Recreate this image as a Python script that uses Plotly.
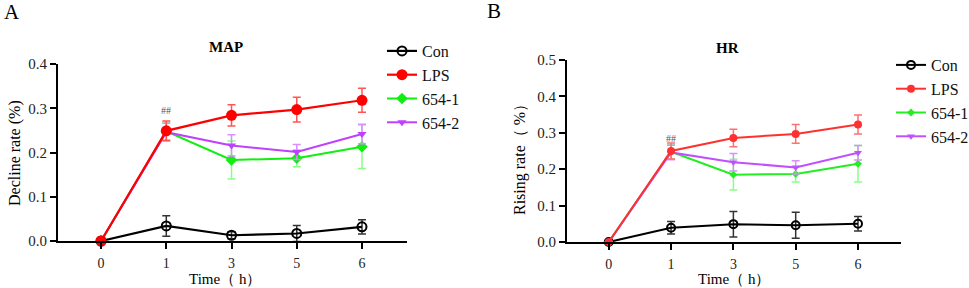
import plotly.graph_objects as go

W, H = 969, 288

time_labels = ["0", "1", "3", "5", "6"]
series_names = ["Con", "LPS", "654-1", "654-2"]

# MAP (panel A)
map_con = [0, 0.034, 0.013, 0.017, 0.032]
map_con_err = [None, 0.023, 0.008, 0.018, 0.016]
map_lps = [0, 0.249, 0.284, 0.297, 0.318]
map_lps_err = [None, 0.022, 0.024, 0.028, 0.027]
map_g1 = [0, 0.248, 0.183, 0.187, 0.213]
map_g1_err = [None, 0.020, 0.043, 0.019, 0.049]
map_g2 = [0, 0.246, 0.216, 0.201, 0.242]
map_g2_err = [None, 0.020, 0.024, 0.017, 0.022]

# HR (panel B)
hr_con = [0, 0.039, 0.049, 0.046, 0.050]
hr_con_err = [None, 0.017, 0.035, 0.036, 0.020]
hr_lps = [0, 0.250, 0.286, 0.297, 0.323]
hr_lps_err = [None, 0.022, 0.024, 0.026, 0.026]
hr_g1 = [0, 0.248, 0.185, 0.187, 0.215]
hr_g1_err = [None, 0.020, 0.042, 0.022, 0.050]
hr_g2 = [0, 0.246, 0.219, 0.205, 0.245]
hr_g2_err = [None, 0.020, 0.024, 0.018, 0.020]

FONT = "Liberation Serif, Times New Roman, serif"

def px_x(p):
    return p / W

def px_y(p):
    return (H - p) / H

fig = go.Figure()

styles_A = {
    "Con": dict(color="#000000", ecolor="#333333", symbol="circle-open", size=9, lw=2.2),
    "LPS": dict(color="#ff0000", ecolor="#ff5555", symbol="circle", size=11, lw=2.2),
    "654-1": dict(color="#11ee11", ecolor="#88ff88", symbol="diamond", size=9, lw=2.0),
    "654-2": dict(color="#c040ff", ecolor="#d890ff", symbol="triangle-down", size=8, lw=2.0),
}
styles_B = {
    "Con": dict(color="#000000", ecolor="#333333", symbol="circle-open", size=8, lw=2.0),
    "LPS": dict(color="#ff3030", ecolor="#ff7070", symbol="circle", size=8, lw=2.0),
    "654-1": dict(color="#22ee22", ecolor="#88ff88", symbol="diamond", size=6, lw=2.0),
    "654-2": dict(color="#c050ff", ecolor="#d890ff", symbol="triangle-down", size=7, lw=2.0),
}

data_A = {"Con": (map_con, map_con_err), "LPS": (map_lps, map_lps_err),
          "654-1": (map_g1, map_g1_err), "654-2": (map_g2, map_g2_err)}
data_B = {"Con": (hr_con, hr_con_err), "LPS": (hr_lps, hr_lps_err),
          "654-1": (hr_g1, hr_g1_err), "654-2": (hr_g2, hr_g2_err)}

draw_order = ["Con", "654-1", "654-2", "LPS"]
rank = {n: i for i, n in enumerate(series_names)}

for panel, data, styles, xa, ya, leg in [
    ("A", data_A, styles_A, "x", "y", "legend"),
    ("B", data_B, styles_B, "x2", "y2", "legend2"),
]:
    for name in draw_order:
        vals, errs = data[name]
        s = styles[name]
        fig.add_trace(go.Scatter(
            x=time_labels, y=vals, name=name, mode="lines+markers",
            xaxis=xa, yaxis=ya, legend=leg, legendrank=rank[name],
            line=dict(color=s["color"], width=s["lw"]),
            marker=dict(symbol=s["symbol"], size=s["size"], color=s["color"],
                        line=dict(width=2 if s["symbol"] == "circle-open" else 0, color=s["color"])),
            error_y=dict(type="data", array=errs, visible=True, color=s["ecolor"], thickness=1.5, width=4),
            cliponaxis=False,
        ))

axis_common = dict(showgrid=False, zeroline=False, showline=True, linecolor="#000000", linewidth=2,
                   ticks="outside", tickwidth=2, tickcolor="#000000", ticklen=6)
ytickfont = dict(family=FONT, size=15, color="#222222")
xtickfont = dict(family=FONT, size=14, color="#222222")

fig.update_layout(
    width=W, height=H, margin=dict(l=0, r=0, t=0, b=0, autoexpand=False),
    paper_bgcolor="white", plot_bgcolor="white",
    font=dict(family=FONT, color="#000000"),
    xaxis=dict(domain=[px_x(58), px_x(407)], anchor="y", type="category",
               range=[-0.66, 4.69], ticklabelstandoff=2, tickfont=xtickfont, **axis_common),
    yaxis=dict(domain=[px_y(241), px_y(64)], anchor="x", range=[0, 0.4], tickvals=[0, 0.1, 0.2, 0.3, 0.4],
               tickformat=".1f", tickfont=ytickfont, **axis_common),
    xaxis2=dict(domain=[px_x(567), px_x(901)], anchor="y2", type="category",
                range=[-0.67, 4.69], ticklabelstandoff=2, tickfont=xtickfont, **axis_common),
    yaxis2=dict(domain=[px_y(242), px_y(60)], anchor="x2", range=[0, 0.5],
                tickvals=[0, 0.1, 0.2, 0.3, 0.4, 0.5], tickformat=".1f", tickfont=ytickfont, **axis_common),
    legend=dict(x=px_x(382), y=px_y(34), xanchor="left", yanchor="top", bgcolor="rgba(0,0,0,0)",
                font=dict(family=FONT, size=16, color="#111111"), itemwidth=30, traceorder="normal"),
    legend2=dict(x=px_x(891), y=px_y(48), xanchor="left", yanchor="top", bgcolor="rgba(0,0,0,0)",
                 font=dict(family=FONT, size=16, color="#111111"), itemwidth=30, traceorder="normal"),
    showlegend=True,
)

ann = []
# panel letters
ann.append(dict(text="A", x=px_x(2), y=px_y(12), xanchor="left", yanchor="middle", font=dict(size=21)))
ann.append(dict(text="B", x=px_x(485), y=px_y(11), xanchor="left", yanchor="middle", font=dict(size=21)))
# titles
ann.append(dict(text="<b>MAP</b>", x=px_x(226), y=px_y(47), xanchor="center", yanchor="middle", font=dict(size=15)))
ann.append(dict(text="<b>HR</b>", x=px_x(727), y=px_y(48), xanchor="center", yanchor="middle", font=dict(size=15)))
# axis titles
ann.append(dict(text="Decline rate (%)", x=px_x(15), y=px_y(153), xanchor="center", yanchor="middle",
                textangle=-90, font=dict(size=16)))
ann.append(dict(text="Rising rate（ %）", x=px_x(520), y=px_y(156), xanchor="center", yanchor="middle",
                textangle=-90, font=dict(size=16)))
ann.append(dict(text="Time（ h）", x=px_x(225), y=px_y(279), xanchor="center", yanchor="middle", font=dict(size=15)))
ann.append(dict(text="Time（ h）", x=px_x(734), y=px_y(279), xanchor="center", yanchor="middle", font=dict(size=15)))
for a in ann:
    a.update(xref="paper", yref="paper", showarrow=False)
    a["font"].update(family=FONT, color="#000000")

# significance marks (data coordinates)
sig = [
    ("x", "y", "1", 0.294, "##", "center", 0, 10),
    ("x", "y", "6", 0.255, "**", "left", 9, 15),
    ("x", "y", "6", 0.208, "**", "left", 9, 15),
    ("x", "y", "6", 0.032, "***", "left", 9, 15),
    ("x2", "y2", "1", 0.285, "##", "center", 0, 10),
    ("x2", "y2", "6", 0.255, "**", "left", 9, 15),
    ("x2", "y2", "6", 0.192, "**", "left", 9, 15),
    ("x2", "y2", "6", 0.036, "***", "left", 7, 15),
]
for xr, yr, xv, yv, t, xa_, sh, fs in sig:
    ann.append(dict(text=t, x=xv, y=yv, xref=xr, yref=yr, xanchor=xa_, yanchor="middle",
                    xshift=sh, showarrow=False, font=dict(family=FONT, size=fs, color="#555555")))

fig.update_layout(annotations=ann)

fig.write_html("out.html", config={"displayModeBar": False},
               post_script="document.body.style.margin='0px';document.body.style.overflow='hidden';")
